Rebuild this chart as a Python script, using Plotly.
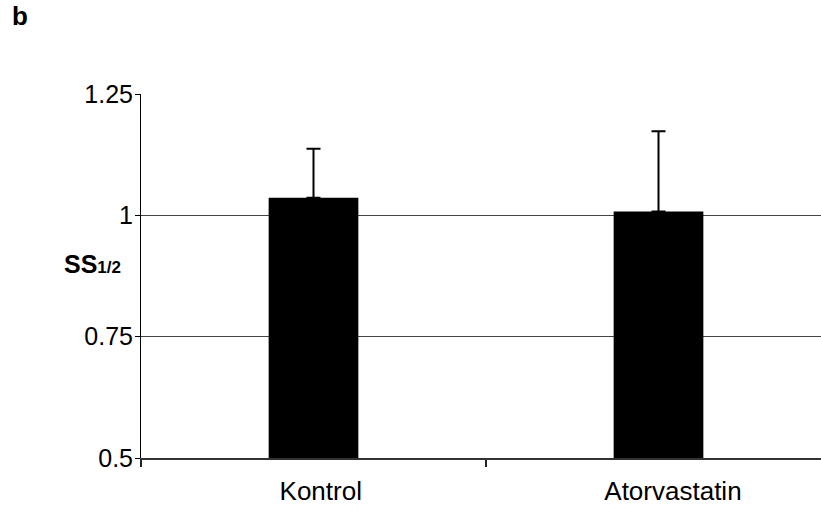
import plotly.graph_objects as go

categories = ["Kontrol", "Atorvastatin"]
category_labels = ["\u00a0\u00a0Kontrol", "\u00a0\u00a0\u00a0\u00a0Atorvastatin"]
means = [1.036, 1.008]
errors_up = [0.101, 0.165]
y_ticks = [0.5, 0.75, 1, 1.25]
y_tick_labels = ["0.5", "0.75", "1", "1.25"]

fig = go.Figure()
fig.add_trace(go.Bar(
    x=categories,
    y=means,
    width=0.26,
    marker=dict(color="black", line=dict(width=0)),
    error_y=dict(type="data", array=errors_up, arrayminus=[0, 0], symmetric=False,
                 color="black", thickness=2, width=7),
))

fig.update_layout(
    width=821, height=514,
    margin=dict(l=141, r=0, t=94, b=56),
    paper_bgcolor="white", plot_bgcolor="white",
    showlegend=False,
    font=dict(family="Liberation Sans, Arial, sans-serif", color="black"),
    xaxis=dict(
        range=[-0.5, 1.471],
        tickvals=categories, ticktext=category_labels,
        showline=True, linecolor="#333", linewidth=2,
        ticks="outside", tickson="boundaries", ticklen=7, tickwidth=2, tickcolor="#222",
        tickfont=dict(size=26, color="black"),
        ticklabelstandoff=9,
        showgrid=False, zeroline=False,
    ),
    yaxis=dict(
        range=[0.5, 1.25],
        tickvals=y_ticks, ticktext=y_tick_labels,
        showline=True, linecolor="black", linewidth=1,
        ticks="outside", ticklen=5, tickwidth=1, tickcolor="black",
        tickfont=dict(size=25, color="black"),
        ticklabelstandoff=-3,
        showgrid=True, gridcolor="#444", gridwidth=1,
        zeroline=False,
    ),
    annotations=[
        dict(text="<b>SS<span style='font-size:17px'>1/2</span></b>",
             xref="paper", yref="y", x=-0.116, y=0.9,
             xanchor="left", yanchor="middle", showarrow=False,
             font=dict(size=25, color="black")),
        dict(text="<b>b</b>", xref="paper", yref="paper", x=-0.192, y=1.214,
             xanchor="left", yanchor="middle", showarrow=False,
             font=dict(size=26, color="black")),
    ],
)

fig.write_html(
    "out.html",
    config={"displayModeBar": False},
    post_script="document.body.style.margin='0';document.body.style.overflow='hidden';",
)
